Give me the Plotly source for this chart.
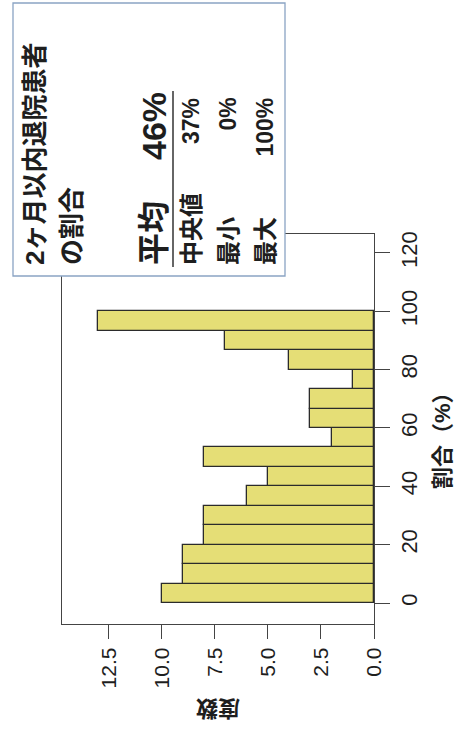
import plotly.graph_objects as go
import numpy as np

# ---- data ----
bin_edges = list(np.linspace(0, 100, 16))          # 15 bins from 0 to 100 %
counts = [10, 9, 9, 8, 8, 6, 5, 8, 2, 3, 3, 1, 4, 7, 13]
pct_ticks = [0, 20, 40, 60, 80, 100, 120]
freq_ticks = [0, 2.5, 5.0, 7.5, 10.0, 12.5]
freq_tick_labels = ["0.0", "2.5", "5.0", "7.5", "10.0", "12.5"]
title_lines = ["2ヶ月以内退院患者", "の割合"]
stat_labels = ["平均", "中央値", "最小", "最大"]
stat_values = ["46%", "37%", "0%", "100%"]
x_title = "割合（%）"
y_title = "度数"

centers = [(bin_edges[i] + bin_edges[i + 1]) / 2 for i in range(len(counts))]
widths = [bin_edges[i + 1] - bin_edges[i] for i in range(len(counts))]

W, H = 464, 729
L, R, T, B = 62, 374, 234, 624
PW, PH = R - L, B - T

def px(x):
    return (x - L) / PW

def py(y):
    return (B - y) / PH

FONT = "Arial, 'Liberation Sans', 'Noto Sans CJK JP', sans-serif"
TXT = "#1e1e1e"

fig = go.Figure()
fig.add_trace(go.Bar(
    x=counts, y=centers, width=widths, orientation="h",
    marker=dict(color="#e5de76", line=dict(color="#2b2b2b", width=1.3)),
    hoverinfo="x+y",
))

fig.update_layout(
    width=W, height=H,
    margin=dict(l=L, r=W - R, t=T, b=H - B, pad=0),
    paper_bgcolor="white", plot_bgcolor="white",
    showlegend=False,
    font=dict(family=FONT, color=TXT),
    bargap=0,
)

fig.update_xaxes(
    range=[14.7, 0], tickvals=freq_ticks, ticktext=freq_tick_labels,
    tickangle=-90, ticks="outside", ticklen=14, tickcolor="#444", tickwidth=1.2,
    showline=True, linecolor="#444", linewidth=1.3, mirror=True,
    showgrid=False, zeroline=False,
    tickfont=dict(size=21, color=TXT, family=FONT),
)
fig.update_yaxes(
    range=[-7.2, 126.5], side="right", tickvals=pct_ticks,
    tickangle=-90, ticks="outside", ticklen=15, tickcolor="#444", tickwidth=1.2,
    showline=True, linecolor="#444", linewidth=1.3, mirror=True,
    showgrid=False, zeroline=False,
    tickfont=dict(size=22, color=TXT, family=FONT),
)

shapes = [
    dict(type="rect", xref="paper", yref="paper",
         x0=px(13), x1=px(285), y0=py(276), y1=py(3),
         fillcolor="white", line=dict(color="#8aa4c4", width=1.3), layer="above"),
    dict(type="line", xref="paper", yref="paper",
         x0=px(173), x1=px(173), y0=py(91), y1=py(267),
         line=dict(color="#333", width=1.5), layer="above"),
]
fig.update_layout(shapes=shapes)

ann = []
# axis titles
ann.append(dict(text="<b>" + x_title + "</b>", xref="paper", yref="paper",
                x=px(442), y=py(435), textangle=-90, showarrow=False,
                xanchor="center", yanchor="middle", font=dict(size=22, color=TXT)))
ann.append(dict(text="<b>" + y_title + "</b>", xref="paper", yref="paper",
                x=px(218), y=py(709), textangle=180, showarrow=False,
                xanchor="center", yanchor="middle", font=dict(size=22, color=TXT)))
# box title
for xc, line in zip([35, 72], title_lines):
    ann.append(dict(text="<b>" + line + "</b>", xref="paper", yref="paper",
                    x=px(xc), y=py(267), textangle=-90, showarrow=False,
                    xanchor="center", yanchor="bottom", font=dict(size=26, color=TXT)))
# stats
cols = [154, 191, 228, 265]
lab_sizes = [32, 24, 24, 24]
val_sizes = [34, 23, 23, 23]
for i, (lab, val) in enumerate(zip(stat_labels, stat_values)):
    ann.append(dict(text="<b>" + lab + "</b>", xref="paper", yref="paper",
                    x=px(cols[i]), y=py(267), textangle=-90, showarrow=False,
                    xanchor="center", yanchor="bottom", font=dict(size=lab_sizes[i], color=TXT)))
    ann.append(dict(text="<b>" + val + "</b>", xref="paper", yref="paper",
                    x=px(cols[i]), y=py(90 if i == 0 else 96), textangle=-90, showarrow=False,
                    xanchor="center", yanchor="top", font=dict(size=val_sizes[i], color=TXT)))
fig.update_layout(annotations=ann)

fig.write_html("out.html", config={"displayModeBar": False},
               post_script="document.body.style.margin='0';")
